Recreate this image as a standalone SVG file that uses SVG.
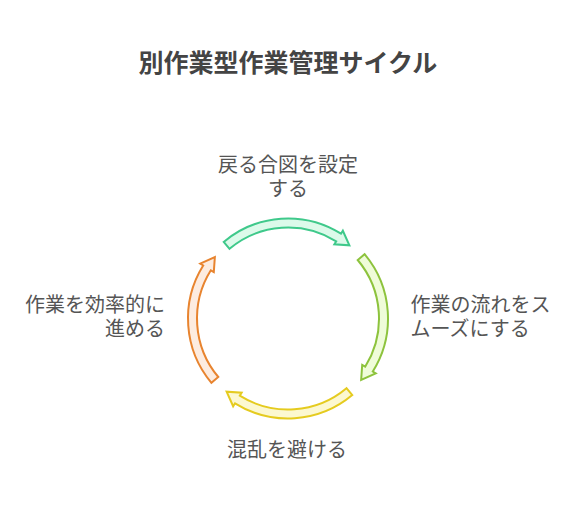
<svg xmlns="http://www.w3.org/2000/svg" width="576" height="510" viewBox="0 0 576 510">
<style>
.title{font-family:"Noto Sans CJK JP","Noto Sans CJK SC",sans-serif;font-size:25px;font-weight:bold;fill:#444444;}
.lbl{font-family:"Noto Sans CJK JP","Noto Sans CJK SC",sans-serif;font-size:20px;fill:#555555;}
.arr{stroke-width:2;stroke-linejoin:miter;}
</style>
<rect width="576" height="510" fill="#ffffff"/>
<text class="title" x="288" y="72" text-anchor="middle">別作業型作業管理サイクル</text>
<g id="connectors" transform="translate(288,318.5)">
<path class="arr" fill="#dcfaea" stroke="#3fc98b" d="M -64.28 -76.60 A 100 100 0 0 1 52.99 -84.80 L 54.85 -87.77 L 61.39 -73.15 L 46.37 -74.20 L 48.22 -77.17 A 91 91 0 0 0 -58.49 -69.71 Z"/>
<path class="arr" fill="#effcd9" stroke="#8dc33d" d="M 76.60 -64.28 A 100 100 0 0 1 84.80 52.99 L 87.77 54.85 L 73.15 61.39 L 74.20 46.37 L 77.17 48.22 A 91 91 0 0 0 69.71 -58.49 Z"/>
<path class="arr" fill="#fcf8d0" stroke="#e5cb1f" d="M 64.28 76.60 A 100 100 0 0 1 -52.99 84.80 L -54.85 87.77 L -61.39 73.15 L -46.37 74.20 L -48.22 77.17 A 91 91 0 0 0 58.49 69.71 Z"/>
<path class="arr" fill="#fdece0" stroke="#e8842f" d="M -76.60 64.28 A 100 100 0 0 1 -84.80 -52.99 L -87.77 -54.85 L -73.15 -61.39 L -74.20 -46.37 L -77.17 -48.22 A 91 91 0 0 0 -69.71 58.49 Z"/>
</g>
<g id="node-top">
<text class="lbl" text-anchor="middle"><tspan x="288" y="171.5">戻る合図を設定</tspan><tspan x="288" y="195.5">する</tspan></text>
</g>
<g id="node-right">
<text class="lbl"><tspan x="410.5" y="312">作業の流れをス</tspan><tspan x="410.5" y="336">ムーズにする</tspan></text>
</g>
<g id="node-bottom">
<text class="lbl" x="287" y="456.5" text-anchor="middle">混乱を避ける</text>
</g>
<g id="node-left">
<text class="lbl" text-anchor="end"><tspan x="165" y="312">作業を効率的に</tspan><tspan x="165" y="336">進める</tspan></text>
</g>
</svg>
